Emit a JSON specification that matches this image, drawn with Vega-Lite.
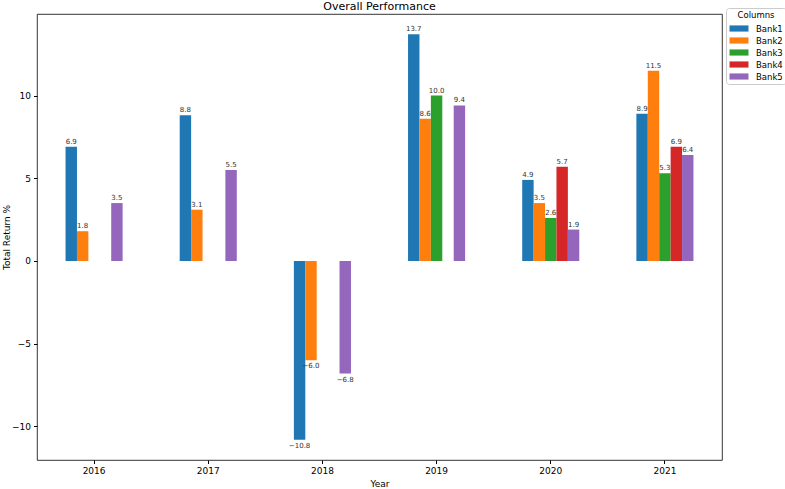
{
  "$schema": "https://vega.github.io/schema/vega-lite/v6.json",
  "autosize": {"type": "none"},
  "padding": {"left": 37, "top": 14, "right": 63, "bottom": 29},
  "width": 685,
  "height": 446,
  "background": "white",
  "title": {"text": "Overall Performance", "fontSize": 11, "fontWeight": "normal", "font": "DejaVu Sans", "color": "#000", "offset": 3, "dy": 7, "anchor": "middle"},
  "config": {
    "view": {"stroke": "#000", "strokeWidth": 0.8},
    "font": "DejaVu Sans",
    "axis": {"grid": false, "domain": false, "tickColor": "#000", "tickSize": 3.5, "labelColor": "#000", "labelFontSize": 9, "titleFontSize": 9, "titleFontWeight": "normal", "titleColor": "#000", "labelFont": "DejaVu Sans", "titleFont": "DejaVu Sans"}
  },
  "data": {"values": [
    {"Year": "2016", "Bank": "Bank1", "Return": 6.9},
    {"Year": "2016", "Bank": "Bank2", "Return": 1.8},
    {"Year": "2016", "Bank": "Bank5", "Return": 3.5},
    {"Year": "2017", "Bank": "Bank1", "Return": 8.8},
    {"Year": "2017", "Bank": "Bank2", "Return": 3.1},
    {"Year": "2017", "Bank": "Bank5", "Return": 5.5},
    {"Year": "2018", "Bank": "Bank1", "Return": -10.8},
    {"Year": "2018", "Bank": "Bank2", "Return": -6.0},
    {"Year": "2018", "Bank": "Bank5", "Return": -6.8},
    {"Year": "2019", "Bank": "Bank1", "Return": 13.7},
    {"Year": "2019", "Bank": "Bank2", "Return": 8.6},
    {"Year": "2019", "Bank": "Bank3", "Return": 10.0},
    {"Year": "2019", "Bank": "Bank5", "Return": 9.4},
    {"Year": "2020", "Bank": "Bank1", "Return": 4.9},
    {"Year": "2020", "Bank": "Bank2", "Return": 3.5},
    {"Year": "2020", "Bank": "Bank3", "Return": 2.6},
    {"Year": "2020", "Bank": "Bank4", "Return": 5.7},
    {"Year": "2020", "Bank": "Bank5", "Return": 1.9},
    {"Year": "2021", "Bank": "Bank1", "Return": 8.9},
    {"Year": "2021", "Bank": "Bank2", "Return": 11.5},
    {"Year": "2021", "Bank": "Bank3", "Return": 5.3},
    {"Year": "2021", "Bank": "Bank4", "Return": 6.9},
    {"Year": "2021", "Bank": "Bank5", "Return": 6.4}
  ]},
  "encoding": {
    "x": {"field": "Year", "type": "nominal", "scale": {"paddingInner": 0.5, "paddingOuter": 0.25}, "axis": {"labelAngle": 0, "title": "Year", "titlePadding": 4, "labelPadding": 3}},
    "xOffset": {"field": "Bank", "type": "nominal", "scale": {"domain": ["Bank1", "Bank2", "Bank3", "Bank4", "Bank5"], "paddingInner": 0, "paddingOuter": 0}},
    "y": {"field": "Return", "type": "quantitative", "scale": {"domain": [-12.025, 14.925], "nice": false, "zero": false}, "axis": {"values": [-10, -5, 0, 5, 10], "title": "Total Return %", "titlePadding": 0, "labelPadding": 3}}
  },
  "layer": [
    {
      "mark": {"type": "bar"},
      "encoding": {
        "y2": {"datum": 0},
        "color": {"field": "Bank", "type": "nominal", "scale": {"domain": ["Bank1", "Bank2", "Bank3", "Bank4", "Bank5"], "range": ["#1f77b4", "#ff7f0e", "#2ca02c", "#d62728", "#9467bd"]},
          "legend": {"title": "Columns", "orient": "none", "legendX": 689, "legendY": -6, "strokeColor": "#cccccc", "fillColor": "white", "cornerRadius": 3, "padding": 3, "titleFontSize": 8.5, "titleFontWeight": "normal", "titleColor": "#000", "titleAnchor": "middle", "labelFontSize": 8.5, "labelColor": "#000", "symbolType": "M-2,-0.65L2,-0.65L2,0.65L-2,0.65Z", "symbolSize": 90, "symbolStrokeWidth": 0, "symbolOffset": 5, "rowPadding": 2, "labelOffset": 12, "titlePadding": 4}}
      }
    },
    {
      "transform": [{"filter": "datum.Return >= 0"}],
      "mark": {"type": "text", "baseline": "bottom", "dy": -2, "fontSize": 7, "color": "#333"},
      "encoding": {"text": {"field": "Return", "type": "quantitative", "format": ".1f"}}
    },
    {
      "transform": [{"filter": "datum.Return < 0"}],
      "mark": {"type": "text", "baseline": "top", "dy": 2, "fontSize": 7, "color": "#333"},
      "encoding": {"text": {"field": "Return", "type": "quantitative", "format": ".1f"}}
    }
  ]
}
